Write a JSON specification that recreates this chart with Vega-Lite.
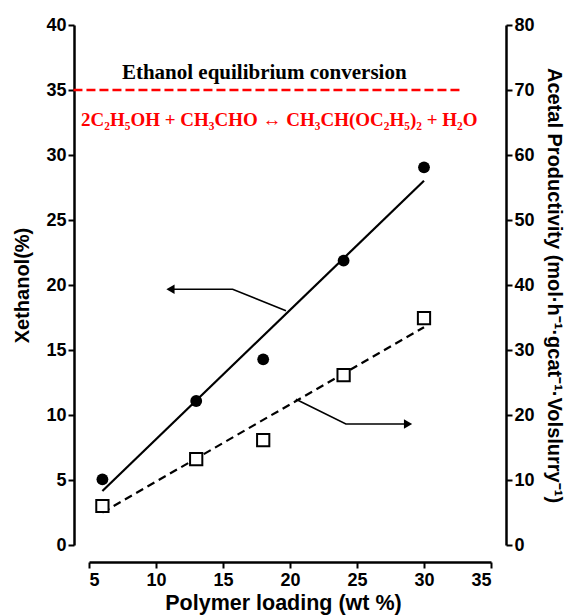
{
  "$schema": "https://vega.github.io/schema/vega-lite/v6.json",
  "autosize": {"type": "none"},
  "padding": {"left": 89, "top": 25, "right": 80, "bottom": 70},
  "width": 402,
  "height": 520,
  "background": "white",
  "config": {
    "view": {"stroke": null},
    "axis": {
      "grid": false,
      "domainColor": "black",
      "domainWidth": 2.5,
      "tickColor": "black",
      "tickWidth": 2,
      "tickSize": 6,
      "labelColor": "black",
      "labelFont": "Liberation Sans",
      "labelFontWeight": "bold",
      "labelFontSize": 18,
      "titleColor": "black",
      "titleFont": "Liberation Sans",
      "titleFontWeight": "bold",
      "titleFontSize": 20
    }
  },
  "datasets": {
    "pts": [
      {"x": 6, "y": 5.05},
      {"x": 13, "y": 11.08},
      {"x": 18, "y": 14.28},
      {"x": 24, "y": 21.87},
      {"x": 30, "y": 29.05}
    ],
    "sq": [
      {"x": 6, "y": 6.0},
      {"x": 13, "y": 13.2},
      {"x": 18, "y": 16.15},
      {"x": 24, "y": 26.15},
      {"x": 30, "y": 34.9}
    ],
    "fitA": [{"x": 6, "y": 4.15}, {"x": 30, "y": 28.02}],
    "fitB": [{"x": 6, "y": 5.0}, {"x": 30, "y": 33.5}],
    "eq": [{"x": 3.84, "y": 35}, {"x": 32.76, "y": 35}],
    "arrows": [
      {"id": "a", "o": 1, "x": 19.7, "y": 18.02},
      {"id": "a", "o": 2, "x": 15.72, "y": 19.67},
      {"id": "a", "o": 3, "x": 11.2, "y": 19.67},
      {"id": "b", "o": 1, "x": 20.44, "y": 11.21},
      {"id": "b", "o": 2, "x": 24.17, "y": 9.31},
      {"id": "b", "o": 3, "x": 28.7, "y": 9.31}
    ],
    "heads": [
      {"x": 11.08, "y": 19.67, "s": "triangle-left"},
      {"x": 28.81, "y": 9.31, "s": "triangle-right"}
    ],
    "txt1": [{"x": 18.08, "y": 36.33, "t": "Ethanol equilibrium conversion"}],
    "txt2": [{"x": 19.2, "y": 32.69, "t": "2C₂H₅OH + CH₃CHO ↔ CH₃CH(OC₂H₅)₂ + H₂O"}]
  },
  "layer": [
    {
      "layer": [
        {
          "data": {"name": "eq"},
          "mark": {"type": "line", "color": "#ff0000", "strokeWidth": 2.5, "strokeDash": [9, 4]},
          "encoding": {
            "x": {"field": "x", "type": "quantitative", "scale": {"domain": [5, 35], "nice": false, "zero": false},
              "axis": {"values": [5, 10, 15, 20, 25, 30, 35], "offset": 17, "title": "Polymer loading (wt %)", "titleFontSize": 21.5, "titlePadding": 3, "titleX": 194, "labelPadding": 3}},
            "y": {"field": "y", "type": "quantitative", "scale": {"domain": [0, 40], "nice": false},
              "axis": {"orient": "left", "offset": 15, "values": [0, 5, 10, 15, 20, 25, 30, 35, 40], "title": "Xethanol(%)", "labelPadding": 2, "titlePadding": 13}}
          }
        },
        {
          "data": {"name": "fitA"},
          "mark": {"type": "line", "color": "black", "strokeWidth": 2.2},
          "encoding": {
            "x": {"field": "x", "type": "quantitative"},
            "y": {"field": "y", "type": "quantitative"}
          }
        },
        {
          "data": {"name": "pts"},
          "mark": {"type": "point", "shape": "circle", "filled": true, "color": "black", "size": 140, "opacity": 1},
          "encoding": {
            "x": {"field": "x", "type": "quantitative"},
            "y": {"field": "y", "type": "quantitative"}
          }
        },
        {
          "data": {"name": "arrows"},
          "mark": {"type": "line", "color": "black", "strokeWidth": 1.6},
          "encoding": {
            "x": {"field": "x", "type": "quantitative"},
            "y": {"field": "y", "type": "quantitative"},
            "detail": {"field": "id"},
            "order": {"field": "o"}
          }
        },
        {
          "data": {"name": "heads"},
          "mark": {"type": "point", "filled": true, "color": "black", "size": 90, "opacity": 1},
          "encoding": {
            "x": {"field": "x", "type": "quantitative"},
            "y": {"field": "y", "type": "quantitative"},
            "shape": {"field": "s", "type": "nominal", "scale": null}
          }
        },
        {
          "data": {"name": "txt1"},
          "mark": {"type": "text", "font": "Liberation Serif", "fontWeight": "bold", "fontSize": 21, "color": "black", "align": "center", "baseline": "middle"},
          "encoding": {
            "x": {"field": "x", "type": "quantitative"},
            "y": {"field": "y", "type": "quantitative"},
            "text": {"field": "t"}
          }
        },
        {
          "data": {"name": "txt2"},
          "mark": {"type": "text", "font": "Liberation Serif", "fontWeight": "bold", "fontSize": 19, "color": "#ff0000", "align": "center", "baseline": "middle"},
          "encoding": {
            "x": {"field": "x", "type": "quantitative"},
            "y": {"field": "y", "type": "quantitative"},
            "text": {"field": "t"}
          }
        }
      ]
    },
    {
      "layer": [
        {
          "data": {"name": "fitB"},
          "mark": {"type": "line", "color": "black", "strokeWidth": 2.2, "strokeDash": [8, 5]},
          "encoding": {
            "x": {"field": "x", "type": "quantitative"},
            "y": {"field": "y", "type": "quantitative", "scale": {"domain": [0, 80], "nice": false},
              "axis": {"orient": "right", "offset": 15, "values": [0, 10, 20, 30, 40, 50, 60, 70, 80], "title": "Acetal Productivity  (mol·h⁻¹·gcat⁻¹·Volslurry⁻¹)", "labelPadding": 2, "titlePadding": 9}}
          }
        },
        {
          "data": {"name": "sq"},
          "mark": {"type": "point", "shape": "square", "filled": true, "fill": "white", "stroke": "black", "strokeWidth": 2, "size": 150, "opacity": 1},
          "encoding": {
            "x": {"field": "x", "type": "quantitative"},
            "y": {"field": "y", "type": "quantitative"}
          }
        }
      ]
    }
  ],
  "resolve": {"scale": {"y": "independent"}}
}
